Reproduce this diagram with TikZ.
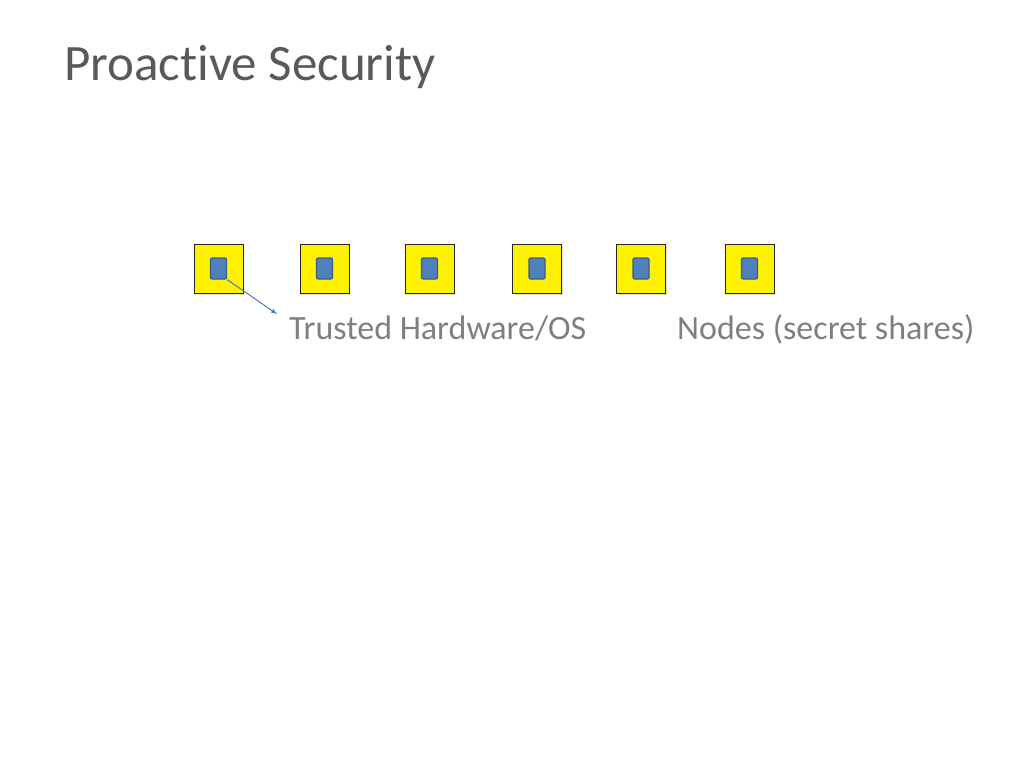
\documentclass[tikz,border=0pt]{standalone}
\usepackage{fontspec}
\setmainfont{Carlito}[Ligatures={NoCommon}]
\usetikzlibrary{shadows}
\definecolor{titlegray}{RGB}{89,89,89}
\definecolor{labelgray}{RGB}{127,127,127}
\definecolor{chipblue}{RGB}{79,129,189}
\definecolor{chipedge}{RGB}{56,93,138}
\definecolor{arrowblue}{RGB}{74,126,187}
\begin{document}
\begin{tikzpicture}[x=1pt,y=-1pt,
	share/.style={draw=black!85, line width=0.8pt, fill=yellow, minimum width=49pt, minimum height=49pt, inner sep=0pt,
		drop shadow={shadow xshift=1.2pt, shadow yshift=-1.5pt, opacity=0.25}},
	chip/.style={draw=chipedge, line width=1.4pt, fill=chipblue, rounded corners=2pt, minimum width=16pt, minimum height=21pt, inner sep=0pt},
	lbl/.style={anchor=base west, inner sep=0pt, text=labelgray, font=\fontsize{34}{40}\selectfont}]
		\useasboundingbox (0,0) rectangle (1024,768);

		%% Title
		\node[anchor=base west, inner sep=0pt, text=titlegray, font=\fontsize{51}{58}\selectfont] at (64,80)(title){Proactive Security};

		%% Nodes
		\node[share] at (218.5,268.5)(n1){};
		\node[share] at (324.5,268.5)(n2){};
		\node[share] at (429.5,268.5)(n3){};
		\node[share] at (537,268.5)(n4){};
		\node[share] at (641,268.5)(n5){};
		\node[share] at (749.5,268.5)(n6){};

		%% Trusted hardware inside each node
		\node[chip] at (n1.center)(t1){};
		\node[chip] at (n2.center)(t2){};
		\node[chip] at (n3.center)(t3){};
		\node[chip] at (n4.center)(t4){};
		\node[chip] at (n5.center)(t5){};
		\node[chip] at (n6.center)(t6){};

		%% Labels
		\node[lbl] at (289,339)(hw){Trusted Hardware/OS};
		\node[lbl] at (677,339)(shares){Nodes (secret shares)};

		\coordinate (hwtip) at (277,314);
		\path[arrowblue, line width=1pt] (t1.south east) edge[-latex] (hwtip);
\end{tikzpicture}
\end{document}
